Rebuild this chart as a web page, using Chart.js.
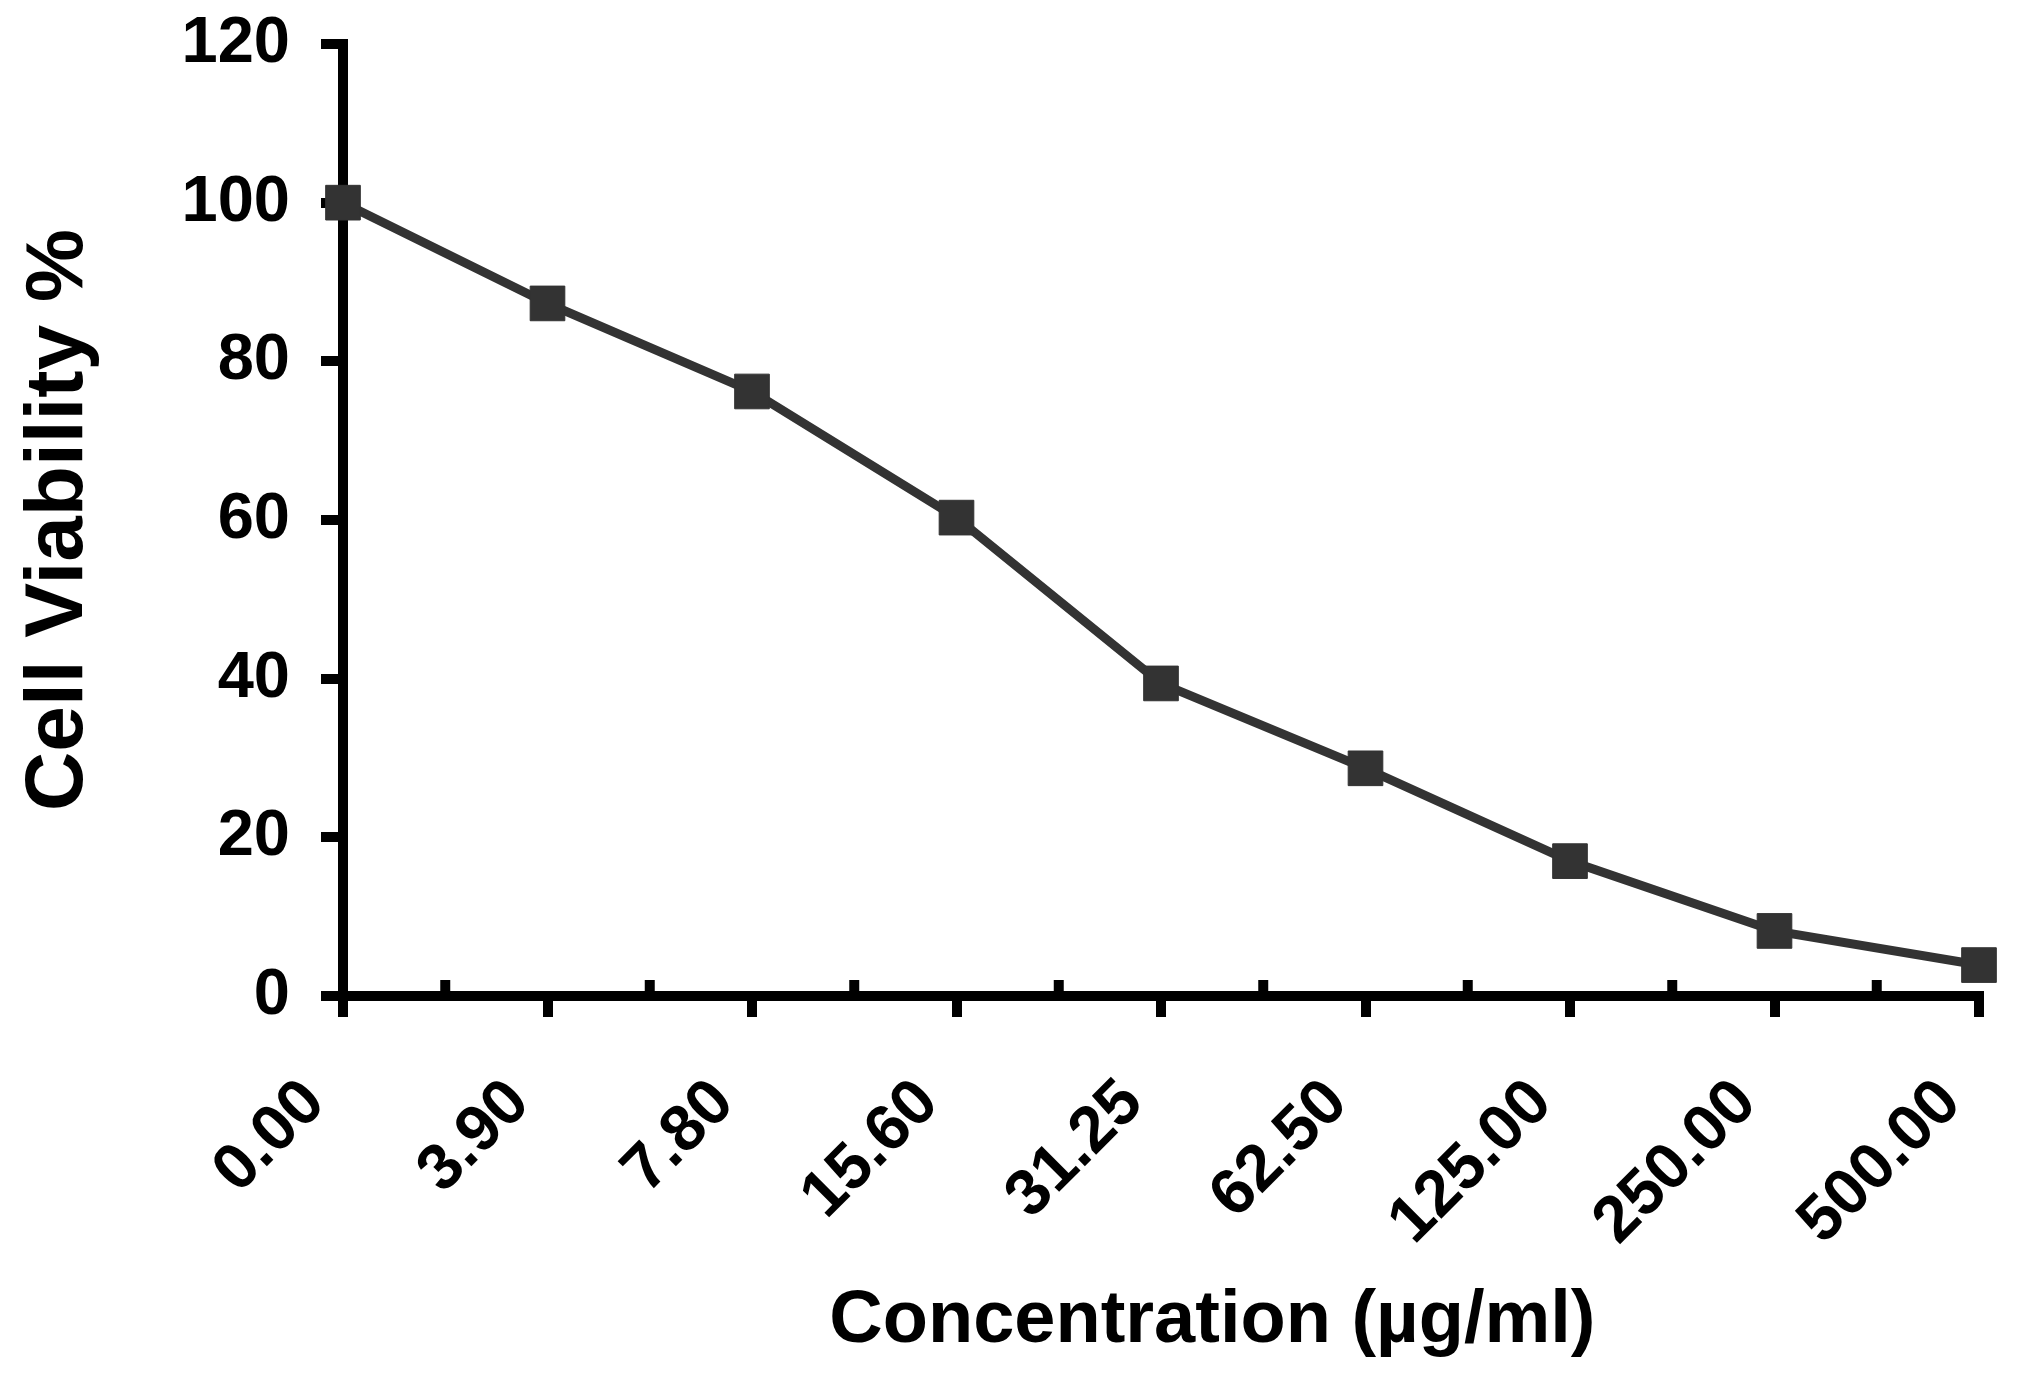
<!DOCTYPE html>
<html>
<head>
<meta charset="utf-8">
<script src="https://cdn.jsdelivr.net/npm/chart.js@4.4.1/dist/chart.umd.min.js"></script>
<style>
  html, body { margin: 0; padding: 0; background: #ffffff; }
  #chart { display: block; }
</style>
</head>
<body>
<canvas id="chart" width="2018" height="1380"></canvas>
<script>
// 濃度 (µg/ml) ごとの細胞生存率
const concentrations = ['0.00', '3.90', '7.80', '15.60', '31.25', '62.50', '125.00', '250.00', '500.00'];
const viability = [100.0, 87.3, 76.2, 60.3, 39.4, 28.7, 17.0, 8.2, 3.9];
const yTicks = [0, 20, 40, 60, 80, 100, 120];

const FONT = "'Liberation Sans', Arial, sans-serif";
const AXIS_COLOR = '#000000';
const SERIES_COLOR = '#333333';

// カテゴリ間の短い内向き目盛り（GraphPad 風）を軸スケールから描く
const minorTicks = {
  id: 'minorTicks',
  afterDatasetsDraw(chart) {
    const x = chart.scales.x;
    const y = chart.scales.y;
    const ctx = chart.ctx;
    const base = y.getPixelForValue(0) - 5;
    ctx.save();
    ctx.strokeStyle = AXIS_COLOR;
    ctx.lineWidth = 10;
    for (let i = 0; i < concentrations.length - 1; i++) {
      const px = x.getPixelForValue(i + 0.5);
      ctx.beginPath();
      ctx.moveTo(px, base);
      ctx.lineTo(px, base - 11);
      ctx.stroke();
    }
    ctx.restore();
  },
};

new Chart(document.getElementById('chart'), {
  type: 'line',
  data: {
    labels: concentrations,
    datasets: [
      {
        data: viability,
        borderColor: SERIES_COLOR,
        backgroundColor: SERIES_COLOR,
        borderWidth: 9,
        tension: 0,
        fill: false,
        pointStyle: 'rect',
        pointRadius: 24.5,
        pointBorderWidth: 1,
        pointBorderColor: SERIES_COLOR,
        pointBackgroundColor: SERIES_COLOR,
        clip: false,
      },
    ],
  },
  options: {
    responsive: false,
    devicePixelRatio: 1,
    animation: false,
    layout: {
      padding: { left: 0, right: 39, top: 44, bottom: 0 },
    },
    plugins: {
      legend: { display: false },
      tooltip: { enabled: false },
    },
    scales: {
      x: {
        type: 'category',
        afterFit(scale) {
          // 回転ラベル分の自動余白を無効化し、プロット領域を固定する
          scale.height = 384;
          scale.paddingLeft = 0;
          scale.paddingRight = 0;
        },
        grid: {
          drawOnChartArea: false,
          drawTicks: true,
          tickLength: 21,
          lineWidth: 10,
          color: AXIS_COLOR,
        },
        border: { display: true, width: 10, color: AXIS_COLOR },
        ticks: {
          autoSkip: false,
          minRotation: 45,
          maxRotation: 45,
          padding: 48,
          labelOffset: -28,
          color: AXIS_COLOR,
          font: { family: FONT, size: 65, weight: 'bold' },
        },
        title: {
          display: true,
          text: '     Concentration (µg/ml)',
          color: AXIS_COLOR,
          padding: { top: 0, bottom: 14 },
          font: { family: FONT, size: 74, weight: 'bold' },
        },
      },
      y: {
        min: 0,
        max: 120,
        afterFit(scale) {
          scale.width = 343;
          scale.paddingTop = 0;
          scale.paddingBottom = 0;
        },
        afterBuildTicks(scale) {
          scale.ticks = yTicks.map((v) => ({ value: v }));
        },
        grid: {
          drawOnChartArea: false,
          drawTicks: true,
          tickLength: 22,
          lineWidth: 10,
          color: AXIS_COLOR,
        },
        border: { display: true, width: 10, color: AXIS_COLOR },
        ticks: {
          padding: 31,
          color: AXIS_COLOR,
          font: { family: FONT, size: 65, weight: 'bold' },
        },
        title: {
          display: true,
          text: 'Cell Viability %',
          color: AXIS_COLOR,
          padding: { top: 10, bottom: 0 },
          font: { family: FONT, size: 82, weight: 'bold' },
        },
      },
    },
  },
  plugins: [minorTicks],
});
</script>
</body>
</html>
